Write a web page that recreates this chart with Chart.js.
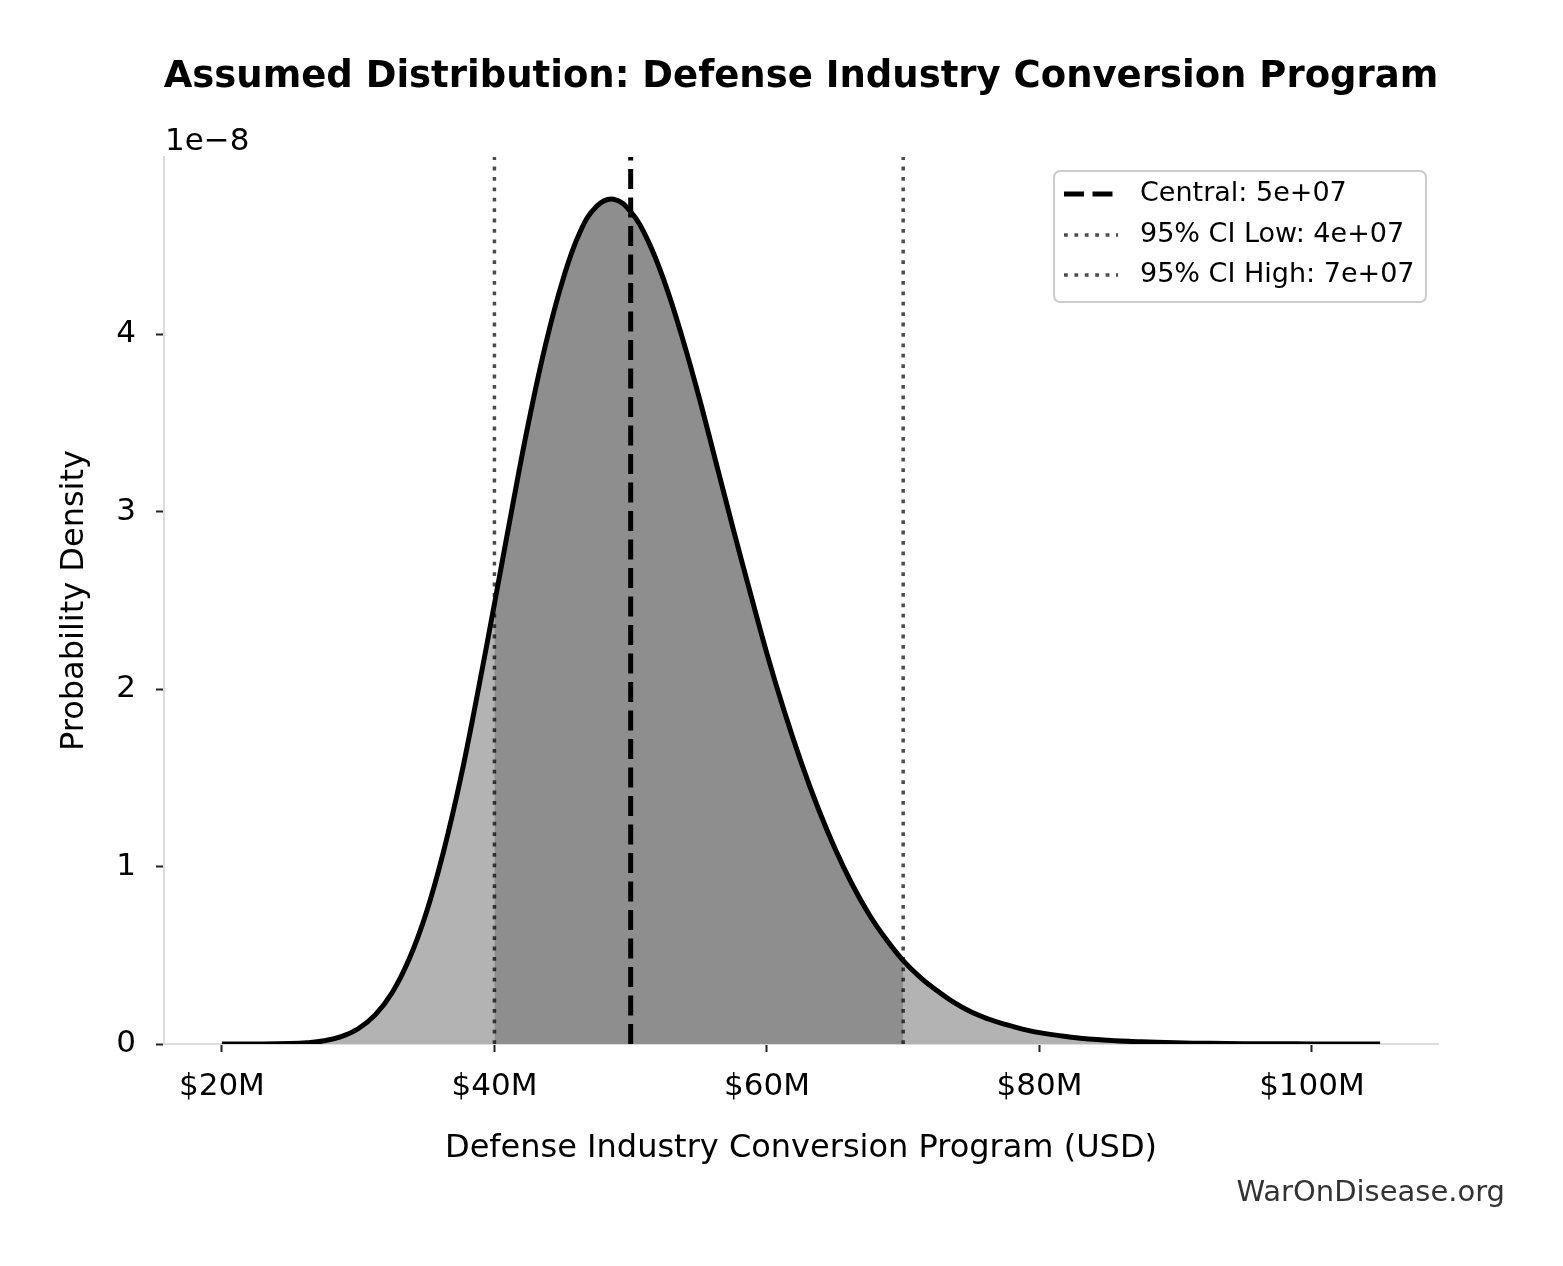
<!DOCTYPE html>
<html>
<head>
<meta charset="utf-8">
<title>Assumed Distribution: Defense Industry Conversion Program</title>
<script src="https://cdn.jsdelivr.net/npm/chart.js@4.4.1/dist/chart.umd.min.js"></script>
<style>
  html, body { margin: 0; padding: 0; background: #fff; }
  canvas { display: block; }
</style>
</head>
<body>
<canvas id="myChart" width="1563" height="1266"></canvas>
<script>
// amount in millions of USD, density in units of 1e-8
const amountsM = [20, 22.5, 25, 26.25, 27.5, 28.75, 30, 31.25, 32.5, 33.75, 35, 36.25, 37.5, 38.75,
  40, 41.25, 42.5, 43.75, 45, 46.25, 47.5, 48.75, 50, 51.25, 52.5, 53.75, 55, 56.25, 57.5, 58.75,
  60, 61.25, 62.5, 63.75, 65, 66.25, 67.5, 68.75, 70, 71.25, 72.5, 73.75, 75, 76.25, 77.5, 78.75,
  80, 82.5, 85, 87.5, 90, 92.5, 95, 97.5, 100, 102.5, 105];
const densityE8 = [0.0000, 0.0002, 0.0023, 0.0068, 0.018, 0.041, 0.086, 0.164, 0.29, 0.48, 0.74, 1.08, 1.49, 1.97,
  2.48, 3.00, 3.50, 3.94, 4.30, 4.57, 4.72, 4.76, 4.69, 4.53, 4.29, 3.99, 3.65, 3.28, 2.91, 2.55,
  2.20, 1.88, 1.59, 1.33, 1.10, 0.90, 0.73, 0.59, 0.47, 0.376, 0.30, 0.233, 0.18, 0.141, 0.11, 0.084,
  0.064, 0.037, 0.021, 0.012, 0.0066, 0.0036, 0.0020, 0.0011, 0.0006, 0.0003, 0.0002];

const centralM = 50;
const ciLowM = 40;
const ciHighM = 70;
const legendLabels = ['Central: 5e+07', '95% CI Low: 4e+07', '95% CI High: 7e+07'];

const xTicksM = [20, 40, 60, 80, 100];
const yTicks = [0, 1, 2, 3, 4];
const xMin = 15.75, xMax = 109.25;
const yMax = 4.998;

const curve = amountsM.map((x, i) => ({x: x, y: densityE8[i]}));
const ciPart = curve.filter(p => p.x >= ciLowM && p.x <= ciHighM);
const vline = x => [{x: x, y: 0}, {x: x, y: yMax}];

const FONT = '"DejaVu Sans", "Liberation Sans", sans-serif';
const DOTTED = 'rgba(0,0,0,0.7)';

Chart.defaults.font.family = FONT;
Chart.defaults.color = '#000';

// titles, offset text, watermark and the boxed legend
const extras = {
  id: 'extras',
  afterDraw(chart) {
    const c = chart.ctx;
    const a = chart.chartArea;
    const mid = (a.left + a.right) / 2;
    c.save();
    c.fillStyle = '#000';
    c.textBaseline = 'alphabetic';

    c.textAlign = 'center';
    c.font = 'bold 37px ' + FONT;
    c.fillText('Assumed Distribution: Defense Industry Conversion Program', mid, 87);

    c.font = '32px ' + FONT;
    c.fillText('Defense Industry Conversion Program (USD)', mid, 1157);

    c.save();
    c.translate(83, (a.top + a.bottom) / 2);
    c.rotate(-Math.PI / 2);
    c.fillText('Probability Density', 0, 0);
    c.restore();

    c.font = '31px ' + FONT;
    c.textAlign = 'left';
    c.fillText('1e\u22128', a.left + 1, 150);

    c.textAlign = 'right';
    c.font = '29px ' + FONT;
    c.fillStyle = '#333';
    c.fillText('WarOnDisease.org', 1505, 1201);

    // legend
    const bx = 1054, by = 171, bw = 372, bh = 131, r = 7;
    c.beginPath();
    c.moveTo(bx + r, by);
    c.lineTo(bx + bw - r, by);
    c.quadraticCurveTo(bx + bw, by, bx + bw, by + r);
    c.lineTo(bx + bw, by + bh - r);
    c.quadraticCurveTo(bx + bw, by + bh, bx + bw - r, by + bh);
    c.lineTo(bx + r, by + bh);
    c.quadraticCurveTo(bx, by + bh, bx, by + bh - r);
    c.lineTo(bx, by + r);
    c.quadraticCurveTo(bx, by, bx + r, by);
    c.closePath();
    c.fillStyle = 'rgba(255,255,255,0.8)';
    c.fill();
    c.strokeStyle = '#cccccc';
    c.lineWidth = 2;
    c.stroke();

    const rows = [194, 235, 275];
    const styles = [
      {color: '#000', width: 5, dash: [20, 8.5]},
      {color: DOTTED, width: 3.5, dash: [3.8, 6.6]},
      {color: DOTTED, width: 3.5, dash: [3.8, 6.6]}
    ];
    c.font = '27px ' + FONT;
    c.textAlign = 'left';
    c.textBaseline = 'middle';
    rows.forEach((y, i) => {
      c.beginPath();
      c.setLineDash(styles[i].dash);
      c.strokeStyle = styles[i].color;
      c.lineWidth = styles[i].width;
      c.moveTo(1064, y);
      c.lineTo(1118, y);
      c.stroke();
      c.setLineDash([]);
      c.fillStyle = '#000';
      c.fillText(legendLabels[i], 1140, y);
    });
    c.restore();
  }
};

const ctx = document.getElementById('myChart').getContext('2d');

new Chart(ctx, {
  type: 'line',
  data: {
    datasets: [
      {
        label: 'density',
        data: curve,
        borderColor: '#000',
        borderWidth: 5,
        pointRadius: 0,
        fill: false,
        tension: 0.4
      },
      {
        label: legendLabels[0],
        data: vline(centralM),
        borderColor: '#000',
        borderWidth: 5,
        borderDash: [20, 8.5],
        pointRadius: 0,
        fill: false
      },
      {
        label: legendLabels[1],
        data: vline(ciLowM),
        borderColor: DOTTED,
        borderWidth: 3.5,
        borderDash: [3.8, 6.6],
        pointRadius: 0,
        fill: false
      },
      {
        label: legendLabels[2],
        data: vline(ciHighM),
        borderColor: DOTTED,
        borderWidth: 3.5,
        borderDash: [3.8, 6.6],
        pointRadius: 0,
        fill: false
      },
      {
        label: 'ci fill',
        data: ciPart,
        borderWidth: 0,
        borderColor: 'rgba(0,0,0,0)',
        backgroundColor: '#8e8e8e',
        pointRadius: 0,
        fill: 'origin',
        tension: 0.4
      },
      {
        label: 'full fill',
        data: curve,
        borderWidth: 0,
        borderColor: 'rgba(0,0,0,0)',
        backgroundColor: '#b3b3b3',
        pointRadius: 0,
        fill: 'origin',
        tension: 0.4
      }
    ]
  },
  options: {
    responsive: false,
    animation: false,
    devicePixelRatio: 1,
    layout: {
      padding: {top: 157, right: 125, bottom: 0, left: 0}
    },
    plugins: {
      legend: {display: false},
      title: {display: false},
      tooltip: {enabled: false}
    },
    scales: {
      x: {
        type: 'linear',
        min: xMin,
        max: xMax,
        afterFit: s => { s.height = 222; },
        afterBuildTicks: s => { s.ticks = xTicksM.map(v => ({value: v})); },
        grid: {
          drawOnChartArea: false,
          drawTicks: true,
          tickLength: 8,
          tickWidth: 2,
          tickColor: '#222'
        },
        border: {display: true, color: '#dddddd', width: 2},
        ticks: {
          padding: 16,
          maxRotation: 0,
          font: {size: 31},
          color: '#000',
          callback: v => '$' + v + 'M'
        }
      },
      y: {
        min: 0,
        max: yMax,
        afterFit: s => { s.width = 164; },
        afterBuildTicks: s => { s.ticks = yTicks.map(v => ({value: v})); },
        grid: {
          drawOnChartArea: false,
          drawTicks: true,
          tickLength: 8,
          tickWidth: 2,
          tickColor: '#222'
        },
        border: {display: true, color: '#dddddd', width: 2},
        ticks: {
          padding: 20,
          font: {size: 31},
          color: '#000',
          callback: v => String(v)
        }
      }
    }
  },
  plugins: [extras]
});
</script>
</body>
</html>
